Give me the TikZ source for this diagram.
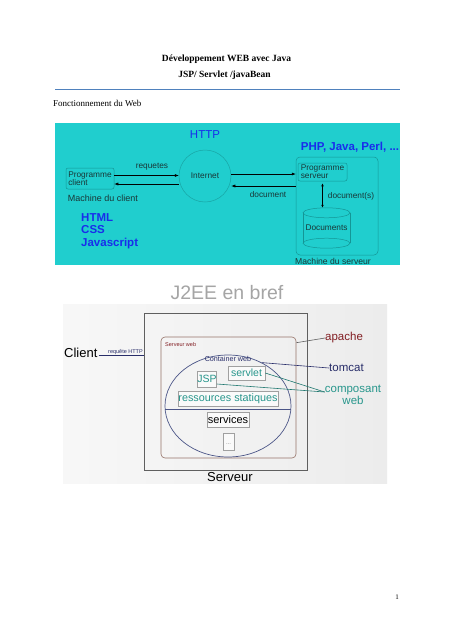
\documentclass[tikz,border=0pt]{standalone}
\usepackage{fontspec}
\setmainfont{Liberation Serif}
\setsansfont{Liberation Sans}
\usetikzlibrary{shapes.geometric,arrows.meta}
\definecolor{cyanbg}{RGB}{32,206,206}
\definecolor{bluetxt}{RGB}{25,45,235}
\definecolor{boxteal}{RGB}{20,150,150}
\definecolor{circteal}{RGB}{25,165,165}
\definecolor{celltxt}{RGB}{25,55,55}
\definecolor{rulecol}{RGB}{79,129,189}
\definecolor{greybg}{RGB}{236,236,236}
\definecolor{j2eegray}{RGB}{165,165,165}
\definecolor{srvline}{RGB}{95,95,95}
\definecolor{swline}{RGB}{150,115,105}
\definecolor{cwline}{RGB}{75,85,135}
\definecolor{apachecol}{RGB}{130,30,35}
\definecolor{tomcatcol}{RGB}{40,45,105}
\definecolor{tealtxt}{RGB}{40,150,140}
\definecolor{boxgray}{RGB}{160,160,160}
\newcommand{\myfs}[1]{\fontsize{#1}{#1}\selectfont}
\begin{document}
\begin{tikzpicture}[x=1pt,y=-1pt,
  cell/.style={font=\sffamily\myfs{8.3}, text=celltxt},
  tealbox/.style={draw=boxteal, line width=0.5pt, rounded corners=2pt, inner sep=0},
  arr/.style={-{Latex[length=4pt,width=3pt]}, line width=0.5pt, black},
  lang/.style={anchor=base west, inner sep=0, font=\sffamily\bfseries\myfs{11.5}, text=bluetxt},
  ibox/.style={draw=boxgray, fill=white!96!gray, line width=0.5pt, inner sep=0},
  rlabel/.style={anchor=west, inner sep=0, font=\sffamily\myfs{11.5}},
  thinline/.style={line width=0.6pt}]
\useasboundingbox (0,0) rectangle (453,640);
\fill[white] (0,0) rectangle (453,640);

% ---------- header ----------
\node[font=\bfseries\myfs{9.5}] (title1) at (226.5,59) {Développement WEB avec Java};
\node[font=\bfseries\myfs{9.5}] (title2) at (224.5,75) {JSP/ Servlet /javaBean};
\draw[rulecol, line width=0.9pt] (55,89) -- (400,89);
\node[anchor=west, font=\myfs{9}, inner sep=0] (fweb) at (53,103) {Fonctionnement du Web};

% ---------- cyan diagram ----------
\fill[cyanbg] (55,123) rectangle (400,265);
\node[font=\sffamily\myfs{11.5}, text=bluetxt] (http) at (205,135) {HTTP};
\node[font=\sffamily\bfseries\myfs{11.5}, text=bluetxt] (php) at (350,147) {PHP, Java, Perl, ...};

\node[tealbox, minimum width=48pt, minimum height=21pt, align=left, cell] (pc) at (90,178.5) {Programme\\client};
\node[circle, draw=circteal, line width=0.5pt, minimum size=52pt, inner sep=0, cell] (inet) at (205,176) {Internet};
\node[cell] (req) at (152,167) {requetes};
\node[cell, font=\sffamily\myfs{9}] (mclient) at (103,198) {Machine du client};
\node[lang] (html) at (81,221) {HTML};
\node[lang] (css) at (81,233.5) {CSS};
\node[lang] (js) at (81,246) {Javascript};

\node[draw=boxteal, line width=0.5pt, rounded corners=4pt, minimum width=82pt, minimum height=98pt, inner sep=0] (sm) at (337,206) {};
\node[tealbox, minimum width=49pt, minimum height=18pt, align=left, cell] (ps) at (322.5,172) {Programme\\serveur};
\node[cell] (doc) at (268,195) {document};
\node[cell] (docs2) at (351,196) {document(s)};
\node[minimum width=47pt, minimum height=40pt, inner sep=0, cell] (docs) at (326.5,228) {Documents};
\path (docs.north) ++(0,5) coordinate (dtop);
\path (docs.south) ++(0,-5) coordinate (dbot);
\draw[boxteal, line width=0.5pt] (dtop) ellipse [x radius=23.5pt, y radius=5pt];
\draw[boxteal, line width=0.5pt] (dbot) ellipse [x radius=23.5pt, y radius=5pt];
\draw[boxteal, line width=0.5pt] (dtop -| docs.west) -- (dbot -| docs.west);
\draw[boxteal, line width=0.5pt] (dtop -| docs.east) -- (dbot -| docs.east);
\node[cell, font=\sffamily\myfs{8.6}] (msrv) at (333,261) {Machine du serveur};

% arrows
\path ([yshift=3pt]pc.east) coordinate (l1);
\path ([yshift=-5.5pt]pc.east) coordinate (l2);
\draw[arr] (l1) -- (l1 -| inet.west);
\draw[arr] (l2 -| inet.west) -- (l2);
\path ([yshift=32pt]sm.west) coordinate (r1);
\path ([yshift=20pt]sm.west) coordinate (r2);
\draw[arr] (r1 -| inet.east) -- (r1);
\draw[arr] (r2) -- (r2 -| inet.east);
\draw[{Latex[length=3pt,width=2.5pt]}-{Latex[length=3pt,width=2.5pt]}, line width=0.5pt] ([yshift=-2pt]ps.south) -- (ps.south |- docs.north);

% ---------- J2EE diagram ----------
\node[font=\sffamily\myfs{19.5}, text=j2eegray] (j2ee) at (227,293) {J2EE en bref};
\shade[left color=greybg!40!white, right color=greybg] (63,304) rectangle (387,483);
\node[draw=srvline, line width=0.8pt, minimum width=163pt, minimum height=157pt, inner sep=0] (srv) at (225.5,391.5) {};
\node[draw=swline, rounded corners=4pt, line width=0.6pt, minimum width=135pt, minimum height=121pt, inner sep=0] (sw) at (228.5,397.5) {};
\node[ellipse, draw=cwline, line width=0.7pt, minimum width=126pt, minimum height=102pt, inner sep=0] (cw) at (228,406) {};
\draw[cwline, line width=0.6pt] ([yshift=-3pt]cw.west) -- ([yshift=-3pt]cw.east);

\node[anchor=west, font=\sffamily\myfs{5.5}, text=apachecol, inner sep=0] (swl) at (165,345) {Serveur web};
\node[font=\sffamily\myfs{7.2}, text=tomcatcol, inner sep=0] (cwl) at (228,359) {Container web};

\node[ibox, minimum width=18pt, minimum height=16pt, font=\sffamily\myfs{10.5}, text=tealtxt] (jsp) at (207,379) {JSP};
\node[ibox, minimum width=37pt, minimum height=14pt, font=\sffamily\myfs{10.5}, text=tealtxt] (servlet) at (246.5,373) {servlet};
\node[ibox, minimum width=100pt, minimum height=15pt, font=\sffamily\myfs{10.8}, text=tealtxt] (res) at (228,398.5) {ressources statiques};
\node[ibox, minimum width=42pt, minimum height=15pt, font=\sffamily\myfs{11}, text=black] (svc) at (228,419.5) {services};
\node[ibox, minimum width=11pt, minimum height=17pt, font=\sffamily\myfs{6}, text=gray] (dots) at (228.5,441.5) {\raisebox{-5pt}{...}};

\node[anchor=west, font=\sffamily\myfs{13}, inner sep=0] (client) at (64,353) {Client};
\draw[tomcatcol, thinline] ([xshift=1pt,yshift=-2pt]client.east) -- ([yshift=-2pt]client.east -| srv.west);
\node[font=\sffamily\myfs{5.5}, text=tomcatcol, inner sep=0] (rq) at (125.5,352) {requête HTTP};

\node[rlabel, text=apachecol] (apache) at (325,338) {apache};
\node[rlabel, text=tomcatcol] (tomcat) at (329,368) {tomcat};
\node[font={\sffamily\fontsize{11.5}{12}\selectfont}, text=tealtxt, align=center, inner sep=0] (comp) at (353,395) {composant\\web};

\draw[srvline, thinline] ([yshift=-6pt]sw.north east) -- (apache.west);
\draw[tomcatcol, thinline] (cw.52) -- (tomcat.west);
\draw[tealtxt!80!black, thinline] (servlet.east) -- ([yshift=3pt]comp.west);
\draw[tealtxt!80!black, thinline] ([yshift=-5pt]jsp.east) -- ([yshift=3pt]comp.west);

\node[font=\sffamily\myfs{13}] (serveur) at (230,477) {Serveur};

% page number
\node[font=\myfs{7}] (pnum) at (397,597) {1};
\end{tikzpicture}
\end{document}
